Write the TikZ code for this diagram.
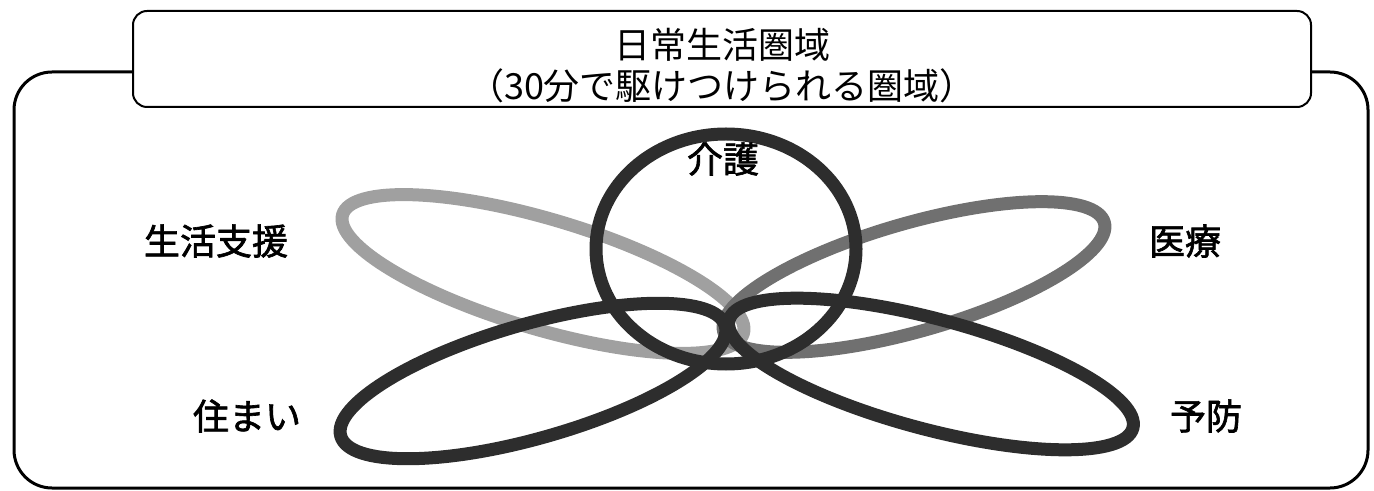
\documentclass[tikz,border=0pt]{standalone}
\usepackage{fontspec}
\setmainfont{Noto Sans CJK JP}
\newfontfamily\labelfamily{Noto Sans CJK JP}[FakeBold=1.8]
\definecolor{petallight}{RGB}{160,160,160}
\definecolor{petalmid}{RGB}{112,112,112}
\definecolor{petaldark}{RGB}{45,45,45}
\begin{document}
\begin{tikzpicture}[x=0.5pt,y=-0.5pt,
  frameline/.style={line width=1.5pt, rounded corners=19pt},
  titlebox/.style={draw, line width=1pt, rounded corners=7pt, minimum width=589pt,
    minimum height=48pt, inner sep=0pt},
  petal/.style={line width=6.5pt},
  lab/.style={inner sep=0pt, font={\labelfamily\fontsize{18}{22}\selectfont}}]
\useasboundingbox (0,0) rectangle (1374,491);
% outer frame
\draw[frameline] (133,72) -- (14,72) -- (14,488) -- (1368,488) -- (1368,72) -- (1311,72);
% title box
\node[titlebox] (title) at (722,59) {};
\node[inner sep=0pt, font={\fontsize{18}{20.5}\selectfont}, align=center] (titletext) at (722,66) {日常生活圏域\\（30分で駆けつけられる圏域）};
% petals
\draw[petal, petallight, shift={(543,274)}, rotate=-16.5] (0,0) ellipse [x radius=209, y radius=55];
\draw[petal, petalmid, shift={(914,277)}, rotate=16] (0,0) ellipse [x radius=198, y radius=54];
\draw[petal, petaldark, shift={(533,381)}, rotate=16] (0,0) ellipse [x radius=200, y radius=57];
\draw[petal, petaldark, shift={(931,374)}, rotate=-15] (0,0) ellipse [x radius=209, y radius=55];
\draw[petal, petaldark] (726,249) ellipse [x radius=130, y radius=115];
% labels
\node[lab] (kaigo) at (723,159) {介護};
\node[lab] (seikatsu) at (216,241) {生活支援};
\node[lab] (iryo) at (1185,241) {医療};
\node[lab] (sumai) at (247,416) {住まい};
\node[lab] (yobo) at (1206,416) {予防};
\end{tikzpicture}
\end{document}
